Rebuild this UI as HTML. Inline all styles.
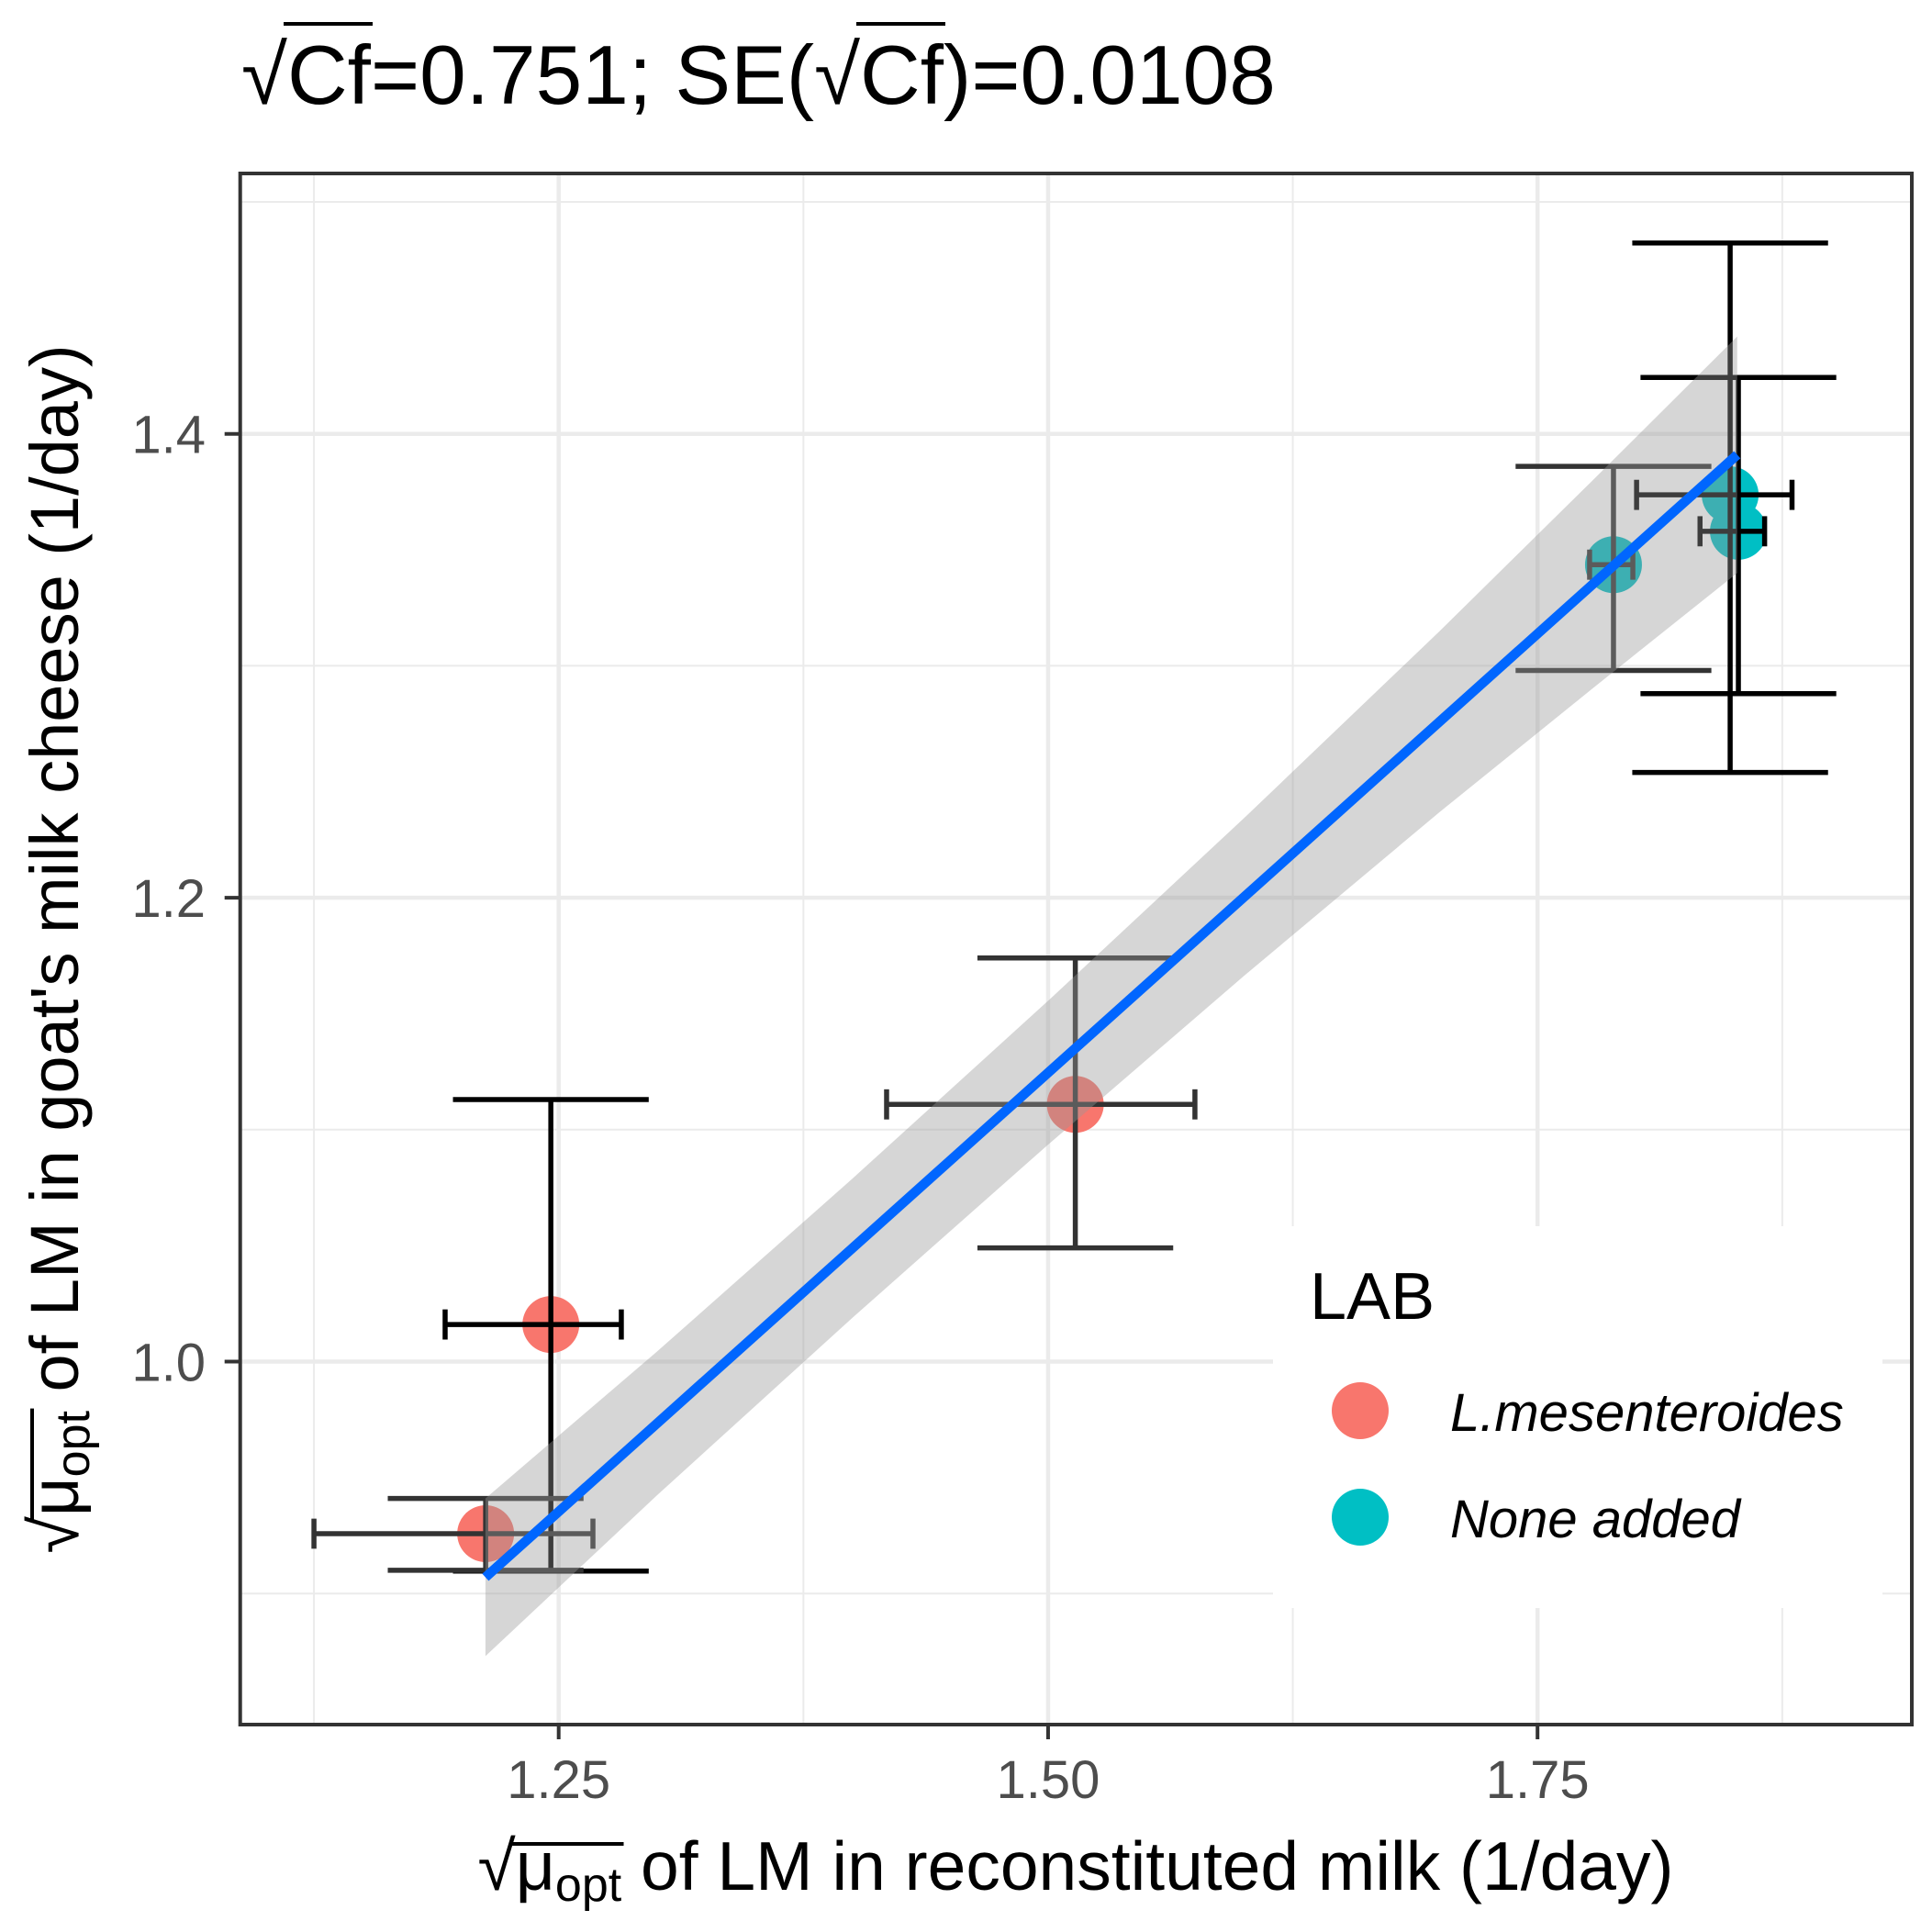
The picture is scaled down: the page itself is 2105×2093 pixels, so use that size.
<!DOCTYPE html>
<html><head><meta charset="utf-8">
<style>
html,body{margin:0;padding:0;background:#fff;}
#wrap{position:relative;width:2105px;height:2093px;overflow:hidden;font-family:"Liberation Sans",Arial,sans-serif;}
svg{position:absolute;left:0;top:0;}
.t{position:absolute;white-space:nowrap;color:#000;}
.bl{display:inline-block;width:0;height:0;vertical-align:baseline;}
.ovl{position:absolute;height:4px;background:#000;}
</style></head>
<body>
<div id="wrap">
<svg id="plot" width="2105" height="2093"></svg>

<div class="t lab" data-ov="89" style="left:263px;top:28px;font-size:91px;line-height:110px;"><span class="bl"></span>√<span class="ov">Cf</span>=0.751; SE(√<span class="ov">Cf</span>)=0.0108</div>

<div class="t lab" data-ov="52" style="left:1172px;top:1988px;font-size:75px;line-height:90px;transform:translateX(-50%);"><span class="bl"></span>√<span class="ov">μ<sub style="font-size:52px;vertical-align:-12px">opt</sub></span> of LM in reconstituted milk (1/day)</div>

<div class="t lab" data-ov="52" style="left:70px;top:1034px;font-size:74px;line-height:90px;transform:translate(-50%,-50%) rotate(-90deg);"><span class="bl"></span>√<span class="ov">μ<sub style="font-size:52px;vertical-align:-12px">opt</sub></span> of LM in goat's milk cheese (1/day)</div>
</div>

<script>
const xTicks = [1.25, 1.5, 1.75];
const xTickLabels = ["1.25", "1.50", "1.75"];
const xMinor = [1.125, 1.375, 1.625, 1.875];
const yTicks = [1.0, 1.2, 1.4];
const yTickLabels = ["1.0", "1.2", "1.4"];
const yMinor = [0.9, 1.1, 1.3, 1.5];

const groups = ["L.mesenteroides", "L.mesenteroides", "L.mesenteroides", "None added", "None added", "None added"];
const xVals = [1.2460, 1.2127, 1.5139, 1.7888, 1.8484, 1.8526];
const yVals = [1.0160, 0.9258, 1.1109, 1.3436, 1.3737, 1.3580];
const xLo = [1.192, 1.125, 1.4175, 1.7766, 1.8006, 1.833];
const xHi = [1.282, 1.2675, 1.575, 1.7987, 1.880, 1.866];
const yLo = [0.9097, 0.910, 1.049, 1.298, 1.254, 1.288];
const yHi = [1.113, 0.941, 1.174, 1.386, 1.4823, 1.4243];
const barColor = ["#000", "#333", "#333", "#333", "#000", "#000"];

const fitX = [1.2126, 1.852];
const fitY = [0.907, 1.391];
const ribbonX = [1.2126, 1.30, 1.40, 1.50, 1.60, 1.70, 1.78, 1.852];
const ribbonHalf = [0.034, 0.031, 0.030, 0.031, 0.034, 0.039, 0.045, 0.051];

const legendLabels = ["L.mesenteroides", "None added"];
const palette = {"L.mesenteroides": "#F8766D", "None added": "#00BFC4"};

const NS = "http://www.w3.org/2000/svg";
const svg = document.getElementById('plot');
const PL = 261.7, PR = 2083, PT = 189, PB = 1879;
function X(v){ return 608.7 + (v - 1.25) * 2133; }
function Y(v){ return 472.7 - (v - 1.4) * 2527; }
function fitAt(x){ return fitY[0] + (fitY[1]-fitY[0])*(x-fitX[0])/(fitX[1]-fitX[0]); }
function mk(tag, attrs, parent){
  const e = document.createElementNS(NS, tag);
  for (const k in attrs) e.setAttribute(k, attrs[k]);
  (parent||svg).appendChild(e);
  return e;
}

const bg = mk('rect', {x:PL, y:PT, width:PR-PL, height:PB-PT, fill:'#fff'});


const clip = mk('clipPath', {id:'pc'});
mk('rect', {x:PL, y:PT, width:PR-PL, height:PB-PT}, clip);
const g = mk('g', {'clip-path':'url(#pc)'});



xMinor.forEach(v=>{ const l=mk('line',{x1:X(v),x2:X(v),y1:PT,y2:PB,stroke:'#EBEBEB','stroke-width':2},g);
    });
yMinor.forEach(v=>{ const l=mk('line',{x1:PL,x2:PR,y1:Y(v),y2:Y(v),stroke:'#EBEBEB','stroke-width':2},g);
    });
xTicks.forEach(v=>{ const l=mk('line',{x1:X(v),x2:X(v),y1:PT,y2:PB,stroke:'#EBEBEB','stroke-width':4.5},g);
    });
yTicks.forEach(v=>{ const l=mk('line',{x1:PL,x2:PR,y1:Y(v),y2:Y(v),stroke:'#EBEBEB','stroke-width':4.5},g);
    });

xVals.forEach((xv,i)=>{
  const c = mk('circle',{cx:X(xv),cy:Y(yVals[i]),r:31,fill:palette[groups[i]]},g);
  
  
});

const capW = 0.05, capH = 0.0065;
xVals.forEach((xv,i)=>{
  const eg = mk('g',{stroke:barColor[i],'stroke-width':5.5,fill:'none'},g);
  
  
  mk('line',{x1:X(xv),x2:X(xv),y1:Y(yLo[i]),y2:Y(yHi[i])},eg);
  mk('line',{x1:X(xv-capW),x2:X(xv+capW),y1:Y(yLo[i]),y2:Y(yLo[i])},eg);
  mk('line',{x1:X(xv-capW),x2:X(xv+capW),y1:Y(yHi[i]),y2:Y(yHi[i])},eg);
  const yv = yVals[i];
  mk('line',{x1:X(xLo[i]),x2:X(xHi[i]),y1:Y(yv),y2:Y(yv)},eg);
  mk('line',{x1:X(xLo[i]),x2:X(xLo[i]),y1:Y(yv-capH),y2:Y(yv+capH)},eg);
  mk('line',{x1:X(xHi[i]),x2:X(xHi[i]),y1:Y(yv-capH),y2:Y(yv+capH)},eg);
});

let pts = [];
ribbonX.forEach((xv,i)=>pts.push(X(xv)+','+Y(fitAt(xv)+ribbonHalf[i])));
for (let i=ribbonX.length-1;i>=0;i--) pts.push(X(ribbonX[i])+','+Y(fitAt(ribbonX[i])-ribbonHalf[i]));
const rb = mk('polygon',{points:pts.join(' '),fill:'#999999','fill-opacity':0.4},g);



const fl = mk('line',{x1:X(fitX[0]),y1:Y(fitY[0]),x2:X(fitX[1]),y2:Y(fitY[1]),stroke:'#0066FF','stroke-width':10.5},g);



const bd = mk('rect',{x:PL,y:PT,width:PR-PL,height:PB-PT,fill:'none',stroke:'#333','stroke-width':4});



xTicks.forEach((v,i)=>{
  const t = mk('line',{x1:X(v),x2:X(v),y1:PB,y2:PB+16,stroke:'#333','stroke-width':4});
   
  const tx = mk('text',{x:X(v),y:1959,'text-anchor':'middle','font-size':58,fill:'#4D4D4D','font-family':'Liberation Sans, sans-serif'});
  tx.textContent = xTickLabels[i];
   
});
yTicks.forEach((v,i)=>{
  const t = mk('line',{x1:PL-17,x2:PL,y1:Y(v),y2:Y(v),stroke:'#333','stroke-width':4});
   
  const tx = mk('text',{x:224,y:Y(v)+21,'text-anchor':'end','font-size':58,fill:'#4D4D4D','font-family':'Liberation Sans, sans-serif'});
  tx.textContent = yTickLabels[i];
   
});

const lg = mk('g',{});


mk('rect',{x:1387,y:1336,width:664,height:416,fill:'#fff'},lg);
const lt = mk('text',{x:1427,y:1437,'font-size':72,fill:'#000','font-family':'Liberation Sans, sans-serif'},lg);
lt.textContent = 'LAB';


legendLabels.forEach((lab,i)=>{
  const cy = 1537 + i*116;
  const c = mk('circle',{cx:1482,cy:cy,r:31,fill:palette[lab]},lg);
  
  
  const t = mk('text',{x:1580,y:cy+22,'font-size':58,'font-style':'italic',fill:'#000','font-family':'Liberation Sans, sans-serif'},lg);
  t.textContent = lab;
  
  
});

document.querySelectorAll('.lab').forEach(box=>{
  const base = box.querySelector('.bl').offsetTop;
  const k = parseFloat(box.getAttribute('data-ov'));
  box.querySelectorAll('.ov').forEach(sp=>{
    const d = document.createElement('div');
    d.className = 'ovl';
    
    
    d.style.left = (sp.offsetLeft - 4) + 'px';
    d.style.width = (sp.offsetWidth + 6) + 'px';
    d.style.top = (base - k) + 'px';
    box.appendChild(d);
  });
});
</script>
</body></html>
